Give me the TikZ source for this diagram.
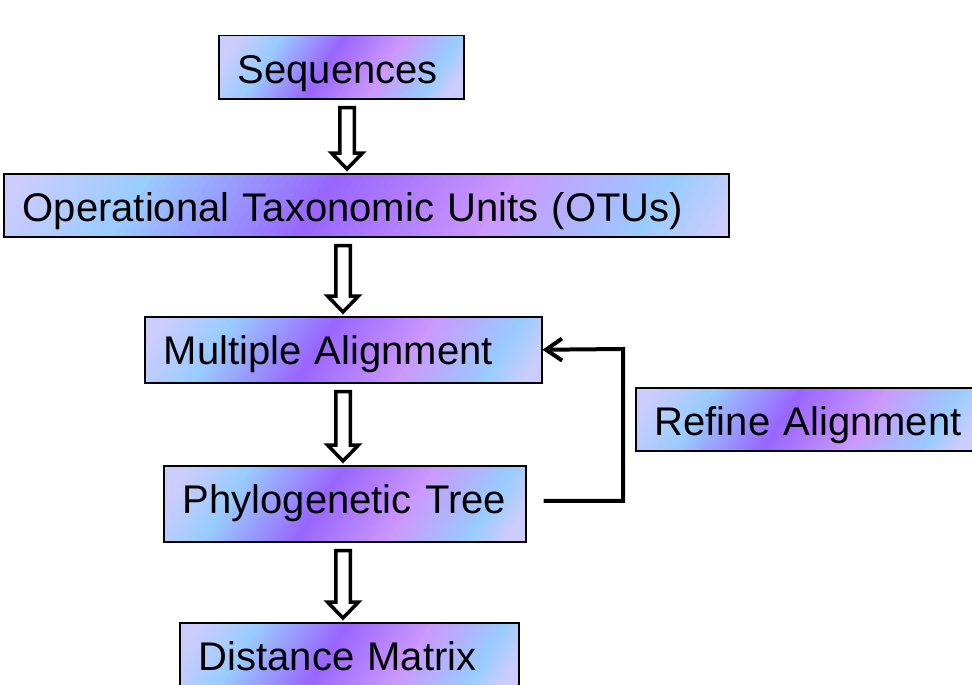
\documentclass[tikz,border=0pt]{standalone}
\usepackage{fontspec}
\newfontfamily\labelfont{Liberation Sans}
\usetikzlibrary{calc,arrows.meta}

\definecolor{lavend}{RGB}{204,204,255}

% Slanted colour bands painted inside a box, left to right.
% #1 = width over which the bands run, #2 = box height (both in pt).
% Stops: lavender 0, sky blue .17, violet .43, lilac .68, sky blue .90, lavender 1.
\newcommand\bandslices[2]{%
  \pgfmathsetmacro\bandS{0.3175*(#2)}%
  \foreach \bandI in {0,...,100}{%
    \pgfmathsetmacro\bandT{\bandI/100}%
    \pgfmathtruncatemacro\bandR{\bandT<0.17 ? 204-51*\bandT/0.17 :
      (\bandT<0.43 ? 153 : (\bandT<0.68 ? 153+51*(\bandT-0.43)/0.25 :
      (\bandT<0.9 ? 204-51*(\bandT-0.68)/0.22 : 153+51*(\bandT-0.9)/0.1)))}%
    \pgfmathtruncatemacro\bandG{\bandT<0.17 ? 204 :
      (\bandT<0.43 ? 204-102*(\bandT-0.17)/0.26 : (\bandT<0.68 ? 102+51*(\bandT-0.43)/0.25 :
      (\bandT<0.9 ? 153+51*(\bandT-0.68)/0.22 : 204)))}%
    \definecolor{bandc}{RGB}{\bandR,\bandG,255}%
    \pgfmathsetmacro\bandXa{\bandT*(#1)-\bandS}%
    \pgfmathsetmacro\bandXb{\bandT*(#1)+\bandS}%
    \pgfmathsetmacro\bandXc{\bandXb+2*(#1)}%
    \pgfmathsetmacro\bandXd{\bandXa+2*(#1)}%
    \fill[bandc] ([xshift=\bandXa pt]path picture bounding box.south west)
      -- ([xshift=\bandXb pt, yshift=#2 pt]path picture bounding box.south west)
      -- ([xshift=\bandXc pt, yshift=#2 pt]path picture bounding box.south west)
      -- ([xshift=\bandXd pt]path picture bounding box.south west) -- cycle;
  }}

\tikzset{
  % #1 text width, #2 text depth, #3 band width, #4 box height
  stage/.style n args={4}{
    draw=black, line width=1.5pt, fill=lavend,
    path picture={\bandslices{#3}{#4}},
    anchor=north west, inner xsep=19pt, inner ysep=0pt,
    text width=#1, text height=48pt, text depth=#2, align=left,
    font=\labelfont\fontsize{40}{48}\selectfont, text=black},
  blockarrow/.style={draw=black, line width=3.5pt, fill=white, line join=miter,
    to path={let \p1=(\tikztostart), \p2=(\tikztotarget) in
      (\x1-7.25pt,\y1-8pt) -- (\x1+7.25pt,\y1-8pt) -- (\x1+7.25pt,\y2+20pt)
      -- (\x1+15.5pt,\y2+20pt) -- (\x1,\y2+4pt) -- (\x1-15.5pt,\y2+20pt)
      -- (\x1-7.25pt,\y2+20pt) -- cycle}},
  feedback/.style={draw=black, line width=4pt,
    -{Straight Barb[length=16pt,width=22pt]}}
}

\begin{document}
\begin{tikzpicture}[x=1pt,y=-1pt]
  \useasboundingbox (0,0) rectangle (972,685);

  \node[stage={207pt}{15pt}{245}{63}] (seq) at (218,35) {Sequences};
  \node[stage={687pt}{15pt}{725}{63}] (otu) at (3,173) {Operational Taxonomic Units (OTUs)};
  \node[stage={359pt}{18pt}{397}{66}] (mal) at (144,316) {Multiple Alignment};
  \node[stage={324pt}{28pt}{362}{76}] (phy) at (163,465) {Phylogenetic Tree};
  \node[stage={301pt}{18pt}{339}{66}] (dist) at (179,622) {Distance Matrix};
  \node[stage={322pt}{15pt}{340}{63}] (ref) at (635,387) {Refine Alignment};

  % vertical axes of the hollow arrows
  \coordinate (axisA) at (347,0);
  \coordinate (axisB) at (343,0);
  \coordinate (bend) at (623,349);

  \draw[blockarrow] (seq.south -| axisA) to (otu.north -| axisA);
  \draw[blockarrow] (otu.south -| axisB) to (mal.north -| axisB);
  \draw[blockarrow] (mal.south -| axisB) to (phy.north -| axisB);
  \draw[blockarrow] (phy.south -| axisB) to (dist.north -| axisB);

  % refinement loop back to the alignment
  \draw[feedback, shorten <=17pt] ([yshift=3pt]phy.east) -| (bend) -- (mal.east);
\end{tikzpicture}
\end{document}
